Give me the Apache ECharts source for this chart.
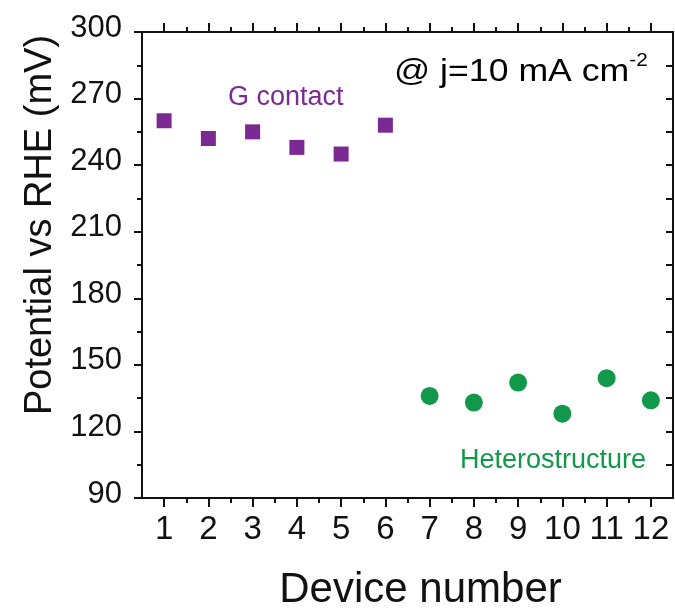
<!DOCTYPE html>
<html>
<head>
<meta charset="utf-8">
<script src="https://cdn.jsdelivr.net/npm/echarts@6/dist/echarts.min.js"></script>
<style>
  html, body { margin: 0; padding: 0; background: #ffffff; }
  #chart { width: 675px; height: 610px; }
</style>
</head>
<body>
<div id="chart"></div>
<script>
// Overpotential at 10 mA/cm² for each measured device
const deviceG = [1, 2, 3, 4, 5, 6];
const potentialG = [260, 252, 255, 248, 245, 258];
const deviceH = [7, 8, 9, 10, 11, 12];
const potentialH = [136, 133, 142, 128, 144, 134];

const xMajorTicks = [1, 2, 3, 4, 5, 6, 7, 8, 9, 10, 11, 12];
const xMinorTicks = [1.5, 2.5, 3.5, 4.5, 5.5, 6.5, 7.5, 8.5, 9.5, 10.5, 11.5];

const FONT = "'Liberation Sans', Arial, sans-serif";
const INK = '#111111';
const PURPLE = '#7B2A93';
const GREEN = '#12984A';

const chart = echarts.init(document.getElementById('chart'), null, { renderer: 'canvas' });

function xAxisBase(position) {
  return {
    type: 'value',
    position: position,
    min: 0.5,
    max: 12.5,
    splitLine: { show: false },
    axisLine: { show: false, onZero: false },
    axisLabel: { show: false },
    axisTick: { show: false }
  };
}

const xBottom = Object.assign(xAxisBase('bottom'), {
  axisLine: { show: true, onZero: false, lineStyle: { color: INK, width: 2 } },
  axisTick: { show: true, inside: false, length: 9, customValues: xMajorTicks, lineStyle: { color: INK, width: 2 } },
  axisLabel: {
    show: true, customValues: xMajorTicks, margin: 15,
    fontFamily: FONT, fontSize: 33, color: INK
  },
  name: 'Device number',
  nameLocation: 'middle',
  nameGap: 71,
  nameTextStyle: { fontFamily: FONT, fontSize: 42, color: INK, padding: [0, 0, 0, 26] }
});

const xTop = Object.assign(xAxisBase('top'), {
  axisLine: { show: true, onZero: false, lineStyle: { color: INK, width: 2 } },
  axisTick: { show: true, inside: false, length: 9, customValues: xMajorTicks, lineStyle: { color: INK, width: 2 } }
});

const xBottomMinor = Object.assign(xAxisBase('bottom'), {
  axisTick: { show: true, inside: false, length: 5, customValues: xMinorTicks, lineStyle: { color: INK, width: 2 } }
});

const xTopMinor = Object.assign(xAxisBase('top'), {
  axisTick: { show: true, inside: false, length: 5, customValues: xMinorTicks, lineStyle: { color: INK, width: 2 } }
});

const option = {
  backgroundColor: '#ffffff',
  animation: false,
  grid: { left: 142, right: 2, top: 32, bottom: 112, outerBoundsMode: 'none' },
  xAxis: [xBottom, xTop, xBottomMinor, xTopMinor],
  yAxis: [
    {
      type: 'value',
      position: 'left',
      min: 90,
      max: 300,
      interval: 30,
      splitLine: { show: false },
      axisLine: { show: true, onZero: false, lineStyle: { color: INK, width: 2 } },
      axisTick: { show: true, inside: false, length: 8, lineStyle: { color: INK, width: 2 } },
      minorTick: { show: true, splitNumber: 2, length: 5, lineStyle: { color: INK, width: 2 } },
      minorSplitLine: { show: false },
      axisLabel: {
        margin: 20, fontFamily: FONT, fontSize: 31, color: INK,
        verticalAlign: 'bottom', lineHeight: 8
      },
      name: 'Potential vs RHE (mV)',
      nameLocation: 'middle',
      nameGap: 80,
      nameTextStyle: { fontFamily: FONT, fontSize: 38, color: INK, padding: [0, 0, 0, 80] }
    },
    {
      type: 'value',
      position: 'right',
      min: 90,
      max: 300,
      interval: 15,
      splitLine: { show: false },
      axisLine: { show: true, onZero: false, lineStyle: { color: INK, width: 2 } },
      axisTick: { show: true, inside: true, length: 7, lineStyle: { color: INK, width: 2 } },
      axisLabel: { show: false }
    }
  ],
  series: [
    {
      name: 'G contact',
      type: 'scatter',
      xAxisIndex: 0,
      yAxisIndex: 0,
      symbol: 'rect',
      symbolSize: 15,
      itemStyle: { color: PURPLE, opacity: 1 },
      data: deviceG.map((d, i) => [d, potentialG[i]])
    },
    {
      name: 'Heterostructure',
      type: 'scatter',
      xAxisIndex: 0,
      yAxisIndex: 0,
      symbol: 'circle',
      symbolSize: 18,
      itemStyle: { color: GREEN, opacity: 1 },
      data: deviceH.map((d, i) => [d, potentialH[i]])
    }
  ],
  graphic: [
    {
      type: 'text', left: 228, top: 84,
      style: { text: 'G contact', font: '27px ' + FONT, fill: PURPLE }
    },
    {
      type: 'text', left: 460, top: 447,
      style: { text: 'Heterostructure', font: '27px ' + FONT, fill: GREEN }
    },
    {
      type: 'text', left: 394, top: 52, scaleX: 1.15,
      style: {
        text: '{m|@ j=10 mA cm}{s|-2}',
        rich: {
          m: { fontFamily: FONT, fontSize: 31, color: INK, verticalAlign: 'bottom', lineHeight: 36 },
          s: { fontFamily: FONT, fontSize: 18, color: INK, verticalAlign: 'top', lineHeight: 24 }
        }
      }
    }
  ]
};

chart.setOption(option);
</script>
</body>
</html>
